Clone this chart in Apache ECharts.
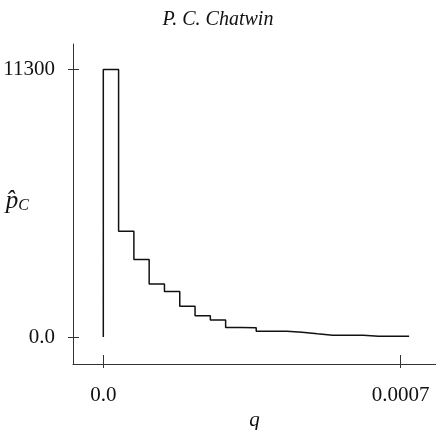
<!DOCTYPE html>
<html>
	<head>
		<meta charset="utf-8" />
		<title></title>
		<script type="text/javascript" src="https://cdn.jsdelivr.net/npm/echarts@6/dist/echarts.min.js"></script>
	</head>
	<body style="margin:0">
		<div id="main" style="width: 436px;height: 430px;"></div>
		<script type="text/javascript">
    // histogram of p_c over q, bins of equal width
    var binWidth = 0.000036;
    var binValues = [11300, 4470, 3280, 2240, 1925, 1300, 900, 715, 400, 395,
                     245, 245, 205, 137, 78, 78, 78, 35, 35, 35];
    var xTickVals = [0, 0.0007];
    var xTickLabels = ['0.0', '0.0007'];
    var yTickVals = [0, 11300];
    var yTickLabels = ['0.0', '11300'];

    // step points: start at (0,0), then one point per bin edge
    var stepData = [[0, 0]];
    for (var i = 0; i < binValues.length; i++) {
      stepData.push([i * binWidth, binValues[i]]);
    }
    stepData.push([binValues.length * binWidth, binValues[binValues.length - 1]]);

    var serif = "'Liberation Serif', 'DejaVu Serif', serif";
    var axisColor = '#333';

    function fmt(vals, labels) {
      return function (v) {
        for (var k = 0; k < vals.length; k++) {
          if (Math.abs(v - vals[k]) < 1e-9 * Math.max(1, Math.abs(vals[k]))) return labels[k];
        }
        return '';
      };
    }

    var xMin = -0.00007134, xMax = 0.0007833;
    var yMin = -1141, yMax = 12382;

	var myChart = echarts.init(document.getElementById('main'));
    var option = {
      animation: false,
      title: {
        text: 'P. C. Chatwin',
        left: 'center',
        top: 5,
        textStyle: { fontFamily: serif, fontStyle: 'italic', fontWeight: 'normal', fontSize: 20, color: '#111' }
      },
      grid: { left: 73, right: 0, top: 44, bottom: 66, outerBoundsMode: 'none' },
      xAxis: [
        {
          type: 'value', min: xMin, max: xMax,
          splitLine: { show: false },
          axisLine: { show: true, onZero: false, lineStyle: { color: axisColor, width: 1 } },
          axisTick: { show: true, customValues: xTickVals, length: 4, lineStyle: { color: axisColor } },
          axisLabel: {
            customValues: xTickVals, formatter: fmt(xTickVals, xTickLabels),
            margin: 21, fontFamily: serif, fontSize: 21, color: '#111'
          },
          name: 'q', nameLocation: 'middle', nameGap: 46, nameMoveOverlap: false,
          nameTextStyle: { fontFamily: serif, fontStyle: 'italic', fontSize: 21, color: '#111' }
        },
        {
          // inner half of the crossing ticks
          type: 'value', min: xMin, max: xMax, position: 'bottom', offset: 0,
          splitLine: { show: false }, axisLine: { show: false, onZero: false },
          axisTick: { show: true, inside: true, customValues: xTickVals, length: 9, lineStyle: { color: axisColor } },
          axisLabel: { show: false }
        }
      ],
      yAxis: [
        {
          type: 'value', min: yMin, max: yMax,
          splitLine: { show: false },
          axisLine: { show: true, onZero: false, lineStyle: { color: axisColor, width: 1 } },
          axisTick: { show: true, customValues: yTickVals, length: 5, lineStyle: { color: axisColor } },
          axisLabel: {
            customValues: yTickVals, formatter: fmt(yTickVals, yTickLabels),
            margin: 18, fontFamily: serif, fontSize: 21, color: '#111'
          },
          name: '{p|p\u0302}{c|C}', nameLocation: 'middle', nameRotate: 0, nameGap: 44, nameMoveOverlap: false,
          nameTextStyle: {
            padding: [0, 0, 6, 0],
            rich: {
              p: { fontFamily: serif, fontStyle: 'italic', fontSize: 25, color: '#111' },
              c: { fontFamily: serif, fontStyle: 'italic', fontSize: 16, color: '#111', padding: [9, 0, 0, 0] }
            }
          }
        },
        {
          type: 'value', min: yMin, max: yMax, position: 'left', offset: 0,
          splitLine: { show: false }, axisLine: { show: false, onZero: false },
          axisTick: { show: true, inside: true, customValues: yTickVals, length: 6, lineStyle: { color: axisColor } },
          axisLabel: { show: false }
        }
      ],
      series: [
        {
          type: 'line',
          step: 'end',
          data: stepData,
          symbol: 'none',
          lineStyle: { color: '#111', width: 1.5 }
        }
      ]
    };
    myChart.setOption(option);
		</script>
	</body>
</html>
